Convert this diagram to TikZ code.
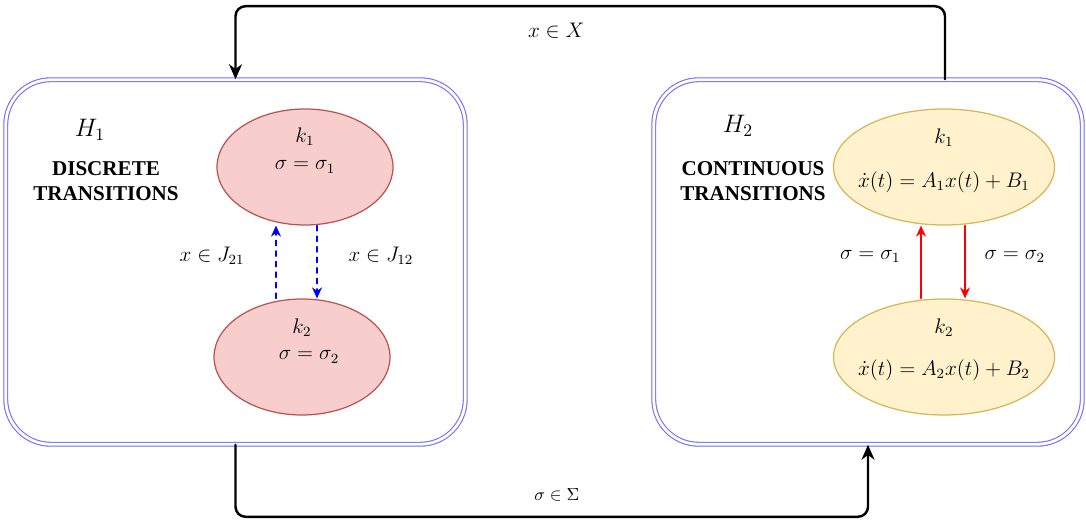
\documentclass[tikz,border=0pt]{standalone}
\usepackage[no-math]{fontspec}
\setmainfont{Liberation Serif}
\usepackage{amsmath}
\usepackage{amssymb}
\usetikzlibrary{arrows.meta,shapes.geometric}

\definecolor{boxblue}{HTML}{6C6CFF}
\definecolor{pinkfill}{HTML}{F8CECC}
\definecolor{pinkline}{HTML}{B85450}
\definecolor{yellowfill}{HTML}{FFF2CC}
\definecolor{yellowline}{HTML}{D6B656}

\begin{document}
\begin{tikzpicture}[
    line cap=round,
    line join=round,
    font=\large,
    hbox/.style={draw=boxblue, double=white, double distance=1.6pt,
        line width=0.6pt, rounded corners=0.9cm, minimum height=7.29cm},
    pinkstate/.style={ellipse, draw=pinkline, fill=pinkfill, line width=0.7pt,
        minimum width=3.52cm, minimum height=2.32cm},
    yellowstate/.style={ellipse, draw=yellowline, fill=yellowfill, line width=0.7pt,
        minimum width=4.42cm, minimum height=2.32cm},
    jump/.style={blue, dashed, line width=0.8pt, -{Stealth[length=2.2mm,width=2mm]}},
    flow/.style={red, line width=0.8pt, -{Stealth[length=2.2mm,width=2mm]}},
    link/.style={line width=1.4pt, rounded corners=0.2cm, -{Stealth[length=3mm,width=2.6mm]}},
    heading/.style={font=\large\bfseries, align=center},
    cond/.style={text=black}
]

\useasboundingbox (0,0) rectangle (21.72,10.42);

% Sistemi ibridi
\node[hbox, minimum width=9.19cm] (H1box) at (4.71,5.18) {};
\node[hbox, minimum width=8.57cm] (H2box) at (17.36,5.18) {};

% Titoli
\node[font=\Large] (H1) at (1.8,7.82) {$H_1$};
\node[heading] (H1title) at (2.12,6.8) {DISCRETE\\TRANSITIONS};
\node[font=\Large] (H2) at (14.76,7.9) {$H_2$};
\node[heading] (H2title) at (15.06,6.8) {CONTINUOUS\\TRANSITIONS};

% Stati discreti
\node[pinkstate] (k1L) at (6.1,7.08) {};
\node[pinkstate] (k2L) at (6.04,3.28) {};
\node (k1Lname) at ([yshift=0.6cm]k1L.center) {$k_1$};
\node (k1Leq) at (k1L.center) {$\sigma=\sigma_1$};
\node (k2Lname) at ([yshift=0.58cm]k2L.center) {$k_2$};
\node (k2Leq) at ([xshift=0.14cm]k2L.center) {$\sigma=\sigma_2$};

% Stati continui
\node[yellowstate] (k1R) at (18.88,7.08) {};
\node[yellowstate] (k2R) at (18.88,3.28) {};
\node (k1Rname) at ([yshift=0.58cm]k1R.center) {$k_1$};
\node (k1Req) at ([yshift=-0.3cm]k1R.center) {$\dot{x}(t)=A_1x(t)+B_1$};
\node (k2Rname) at ([yshift=0.58cm]k2R.center) {$k_2$};
\node (k2Req) at ([yshift=-0.26cm]k2R.center) {$\dot{x}(t)=A_2x(t)+B_2$};

% Salti
\draw[jump] ([xshift=-0.52cm]k2L.north) -- ([xshift=-0.52cm]k2L.north |- k1L.south)
    node[cond, pos=0.58, left=0.5cm] {$x\in J_{21}$};
\draw[jump] ([xshift=0.24cm]k1L.south) -- ([xshift=0.24cm]k1L.south |- k2L.north)
    node[cond, pos=0.42, right=0.5cm] {$x\in J_{12}$};

% Commutazioni
\draw[flow] ([xshift=-0.46cm]k2R.north) -- ([xshift=-0.46cm]k2R.north |- k1R.south)
    node[cond, pos=0.58, left=0.28cm] {$\sigma=\sigma_1$};
\draw[flow] ([xshift=0.42cm]k1R.south) -- ([xshift=0.42cm]k1R.south |- k2R.north)
    node[cond, pos=0.42, right=0.26cm] {$\sigma=\sigma_2$};

% Collegamenti esterni
\draw[link] ([xshift=1.54cm]H2box.north) -- ++(0,1.46) -| (H1box.north)
    node[pos=0.274, below=0.2cm] {$x\in X$};
\draw[link] (H1box.south) -- ++(0,-1.44) -| (H2box.south)
    node[pos=0.254, above=0.18cm, font=\normalsize] {$\sigma\in\Sigma$};

\end{tikzpicture}
\end{document}
